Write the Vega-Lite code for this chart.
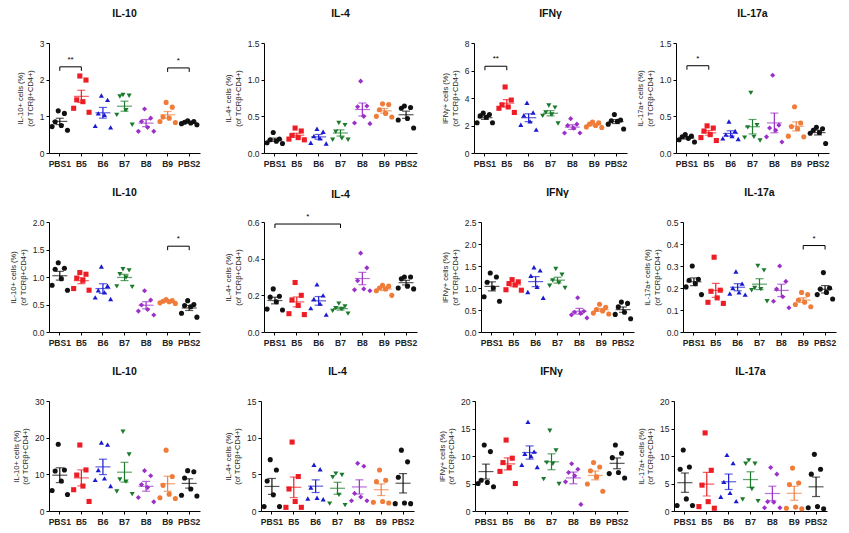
{
"$schema":"https://vega.github.io/schema/vega-lite/v6.json",
"padding":{"left":9,"top":8,"right":5,"bottom":5},
"background":"white",
"datasets":{
"br":[{"p":1,"a":0,"b":1,"y":2.35,"lab":"**"},{"p":1,"a":5,"b":6,"y":2.32,"lab":"*"},{"p":3,"a":0,"b":1,"y":6.31,"lab":"**"},{"p":4,"a":0,"b":1,"y":1.19,"lab":"*"},{"p":5,"a":5,"b":6,"y":1.56,"lab":"*"},{"p":6,"a":0,"b":3,"y":0.589,"lab":"*"},{"p":8,"a":5,"b":6,"y":0.393,"lab":"*"}],
"pts":[
{"p":1,"g":"PBS1","r":3,"v":1.15},{"p":1,"g":"PBS1","r":5,"v":1.08},{"p":1,"g":"PBS1","r":2,"v":0.85},{"p":1,"g":"PBS1","r":4,"v":0.75},{"p":1,"g":"PBS1","r":1,"v":0.72},{"p":1,"g":"PBS1","r":6,"v":0.62},
{"p":1,"g":"B5","r":3,"v":2.10},{"p":1,"g":"B5","r":5,"v":1.99},{"p":1,"g":"B5","r":2,"v":1.45},{"p":1,"g":"B5","r":4,"v":1.40},{"p":1,"g":"B5","r":1,"v":1.22},{"p":1,"g":"B5","r":6,"v":1.11},
{"p":1,"g":"B6","r":3,"v":1.57},{"p":1,"g":"B6","r":5,"v":1.45},{"p":1,"g":"B6","r":2,"v":1.08},{"p":1,"g":"B6","r":4,"v":1.04},{"p":1,"g":"B6","r":1,"v":0.74},{"p":1,"g":"B6","r":6,"v":0.70},
{"p":1,"g":"B7","r":3,"v":1.58},{"p":1,"g":"B7","r":5,"v":1.56},{"p":1,"g":"B7","r":2,"v":1.54},{"p":1,"g":"B7","r":4,"v":1.17},{"p":1,"g":"B7","r":1,"v":1.04},{"p":1,"g":"B7","r":6,"v":0.77},
{"p":1,"g":"B8","r":3,"v":1.20},{"p":1,"g":"B8","r":5,"v":0.95},{"p":1,"g":"B8","r":2,"v":0.86},{"p":1,"g":"B8","r":4,"v":0.70},{"p":1,"g":"B8","r":1,"v":0.59},{"p":1,"g":"B8","r":6,"v":0.59},
{"p":1,"g":"B9","r":3,"v":1.38},{"p":1,"g":"B9","r":5,"v":1.25},{"p":1,"g":"B9","r":2,"v":0.98},{"p":1,"g":"B9","r":4,"v":0.95},{"p":1,"g":"B9","r":1,"v":0.86},{"p":1,"g":"B9","r":6,"v":0.83},
{"p":1,"g":"PBS2","r":3,"v":0.88},{"p":1,"g":"PBS2","r":5,"v":0.86},{"p":1,"g":"PBS2","r":2,"v":0.84},{"p":1,"g":"PBS2","r":4,"v":0.82},{"p":1,"g":"PBS2","r":1,"v":0.80},{"p":1,"g":"PBS2","r":6,"v":0.77},
{"p":2,"g":"PBS1","r":3,"v":0.28},{"p":2,"g":"PBS1","r":5,"v":0.19},{"p":2,"g":"PBS1","r":2,"v":0.18},{"p":2,"g":"PBS1","r":4,"v":0.16},{"p":2,"g":"PBS1","r":1,"v":0.14},{"p":2,"g":"PBS1","r":6,"v":0.13},
{"p":2,"g":"B5","r":3,"v":0.34},{"p":2,"g":"B5","r":5,"v":0.30},{"p":2,"g":"B5","r":2,"v":0.24},{"p":2,"g":"B5","r":4,"v":0.21},{"p":2,"g":"B5","r":1,"v":0.19},{"p":2,"g":"B5","r":6,"v":0.18},
{"p":2,"g":"B6","r":3,"v":0.33},{"p":2,"g":"B6","r":5,"v":0.29},{"p":2,"g":"B6","r":2,"v":0.23},{"p":2,"g":"B6","r":4,"v":0.20},{"p":2,"g":"B6","r":1,"v":0.14},{"p":2,"g":"B6","r":6,"v":0.13},
{"p":2,"g":"B7","r":3,"v":0.41},{"p":2,"g":"B7","r":5,"v":0.38},{"p":2,"g":"B7","r":2,"v":0.29},{"p":2,"g":"B7","r":4,"v":0.20},{"p":2,"g":"B7","r":1,"v":0.18},{"p":2,"g":"B7","r":6,"v":0.18},
{"p":2,"g":"B8","r":3,"v":0.98},{"p":2,"g":"B8","r":5,"v":0.64},{"p":2,"g":"B8","r":2,"v":0.63},{"p":2,"g":"B8","r":4,"v":0.50},{"p":2,"g":"B8","r":1,"v":0.41},{"p":2,"g":"B8","r":6,"v":0.40},
{"p":2,"g":"B9","r":3,"v":0.67},{"p":2,"g":"B9","r":5,"v":0.66},{"p":2,"g":"B9","r":2,"v":0.59},{"p":2,"g":"B9","r":4,"v":0.54},{"p":2,"g":"B9","r":1,"v":0.50},{"p":2,"g":"B9","r":6,"v":0.49},
{"p":2,"g":"PBS2","r":3,"v":0.64},{"p":2,"g":"PBS2","r":5,"v":0.62},{"p":2,"g":"PBS2","r":2,"v":0.61},{"p":2,"g":"PBS2","r":4,"v":0.47},{"p":2,"g":"PBS2","r":1,"v":0.45},{"p":2,"g":"PBS2","r":6,"v":0.34},
{"p":3,"g":"PBS1","r":3,"v":2.9},{"p":3,"g":"PBS1","r":5,"v":2.8},{"p":3,"g":"PBS1","r":2,"v":2.7},{"p":3,"g":"PBS1","r":4,"v":2.6},{"p":3,"g":"PBS1","r":1,"v":2.2},{"p":3,"g":"PBS1","r":6,"v":2.2},
{"p":3,"g":"B5","r":3,"v":4.8},{"p":3,"g":"B5","r":5,"v":3.85},{"p":3,"g":"B5","r":2,"v":3.5},{"p":3,"g":"B5","r":4,"v":3.35},{"p":3,"g":"B5","r":1,"v":3.25},{"p":3,"g":"B5","r":6,"v":2.95},
{"p":3,"g":"B6","r":3,"v":3.65},{"p":3,"g":"B6","r":5,"v":2.95},{"p":3,"g":"B6","r":2,"v":2.75},{"p":3,"g":"B6","r":4,"v":2.3},{"p":3,"g":"B6","r":1,"v":2.05},{"p":3,"g":"B6","r":6,"v":1.7},
{"p":3,"g":"B7","r":3,"v":3.45},{"p":3,"g":"B7","r":5,"v":3.3},{"p":3,"g":"B7","r":2,"v":2.95},{"p":3,"g":"B7","r":4,"v":2.8},{"p":3,"g":"B7","r":1,"v":2.7},{"p":3,"g":"B7","r":6,"v":2.15},
{"p":3,"g":"B8","r":3,"v":2.5},{"p":3,"g":"B8","r":5,"v":2.1},{"p":3,"g":"B8","r":2,"v":2.0},{"p":3,"g":"B8","r":4,"v":1.8},{"p":3,"g":"B8","r":1,"v":1.45},{"p":3,"g":"B8","r":6,"v":1.45},
{"p":3,"g":"B9","r":3,"v":2.25},{"p":3,"g":"B9","r":5,"v":2.2},{"p":3,"g":"B9","r":2,"v":2.1},{"p":3,"g":"B9","r":4,"v":2.0},{"p":3,"g":"B9","r":1,"v":1.9},{"p":3,"g":"B9","r":6,"v":1.85},
{"p":3,"g":"PBS2","r":3,"v":2.8},{"p":3,"g":"PBS2","r":5,"v":2.4},{"p":3,"g":"PBS2","r":2,"v":2.35},{"p":3,"g":"PBS2","r":4,"v":2.3},{"p":3,"g":"PBS2","r":1,"v":2.1},{"p":3,"g":"PBS2","r":6,"v":1.75},
{"p":4,"g":"PBS1","r":3,"v":0.25},{"p":4,"g":"PBS1","r":5,"v":0.23},{"p":4,"g":"PBS1","r":2,"v":0.22},{"p":4,"g":"PBS1","r":4,"v":0.20},{"p":4,"g":"PBS1","r":1,"v":0.18},{"p":4,"g":"PBS1","r":6,"v":0.15},
{"p":4,"g":"B5","r":3,"v":0.37},{"p":4,"g":"B5","r":5,"v":0.34},{"p":4,"g":"B5","r":2,"v":0.30},{"p":4,"g":"B5","r":4,"v":0.25},{"p":4,"g":"B5","r":1,"v":0.21},{"p":4,"g":"B5","r":6,"v":0.17},
{"p":4,"g":"B6","r":3,"v":0.43},{"p":4,"g":"B6","r":5,"v":0.30},{"p":4,"g":"B6","r":2,"v":0.25},{"p":4,"g":"B6","r":4,"v":0.23},{"p":4,"g":"B6","r":1,"v":0.20},{"p":4,"g":"B6","r":6,"v":0.19},
{"p":4,"g":"B7","r":3,"v":0.82},{"p":4,"g":"B7","r":5,"v":0.38},{"p":4,"g":"B7","r":2,"v":0.35},{"p":4,"g":"B7","r":4,"v":0.22},{"p":4,"g":"B7","r":1,"v":0.21},{"p":4,"g":"B7","r":6,"v":0.17},
{"p":4,"g":"B8","r":3,"v":1.06},{"p":4,"g":"B8","r":5,"v":0.38},{"p":4,"g":"B8","r":2,"v":0.34},{"p":4,"g":"B8","r":4,"v":0.31},{"p":4,"g":"B8","r":1,"v":0.22},{"p":4,"g":"B8","r":6,"v":0.15},
{"p":4,"g":"B9","r":3,"v":0.63},{"p":4,"g":"B9","r":5,"v":0.41},{"p":4,"g":"B9","r":2,"v":0.36},{"p":4,"g":"B9","r":4,"v":0.33},{"p":4,"g":"B9","r":1,"v":0.23},{"p":4,"g":"B9","r":6,"v":0.22},
{"p":4,"g":"PBS2","r":3,"v":0.35},{"p":4,"g":"PBS2","r":5,"v":0.33},{"p":4,"g":"PBS2","r":2,"v":0.31},{"p":4,"g":"PBS2","r":4,"v":0.28},{"p":4,"g":"PBS2","r":1,"v":0.27},{"p":4,"g":"PBS2","r":6,"v":0.13},
{"p":5,"g":"PBS1","r":3,"v":1.26},{"p":5,"g":"PBS1","r":5,"v":1.16},{"p":5,"g":"PBS1","r":2,"v":1.14},{"p":5,"g":"PBS1","r":4,"v":0.97},{"p":5,"g":"PBS1","r":1,"v":0.85},{"p":5,"g":"PBS1","r":6,"v":0.76},
{"p":5,"g":"B5","r":3,"v":1.08},{"p":5,"g":"B5","r":5,"v":1.05},{"p":5,"g":"B5","r":2,"v":0.98},{"p":5,"g":"B5","r":4,"v":0.94},{"p":5,"g":"B5","r":1,"v":0.79},{"p":5,"g":"B5","r":6,"v":0.76},
{"p":5,"g":"B6","r":3,"v":1.19},{"p":5,"g":"B6","r":5,"v":0.84},{"p":5,"g":"B6","r":2,"v":0.76},{"p":5,"g":"B6","r":4,"v":0.72},{"p":5,"g":"B6","r":1,"v":0.63},{"p":5,"g":"B6","r":6,"v":0.60},
{"p":5,"g":"B7","r":3,"v":1.14},{"p":5,"g":"B7","r":5,"v":1.12},{"p":5,"g":"B7","r":2,"v":1.05},{"p":5,"g":"B7","r":4,"v":0.99},{"p":5,"g":"B7","r":1,"v":0.83},{"p":5,"g":"B7","r":6,"v":0.82},
{"p":5,"g":"B8","r":3,"v":0.75},{"p":5,"g":"B8","r":5,"v":0.58},{"p":5,"g":"B8","r":2,"v":0.49},{"p":5,"g":"B8","r":4,"v":0.41},{"p":5,"g":"B8","r":1,"v":0.38},{"p":5,"g":"B8","r":6,"v":0.31},
{"p":5,"g":"B9","r":3,"v":0.59},{"p":5,"g":"B9","r":5,"v":0.57},{"p":5,"g":"B9","r":2,"v":0.56},{"p":5,"g":"B9","r":4,"v":0.55},{"p":5,"g":"B9","r":1,"v":0.53},{"p":5,"g":"B9","r":6,"v":0.52},
{"p":5,"g":"PBS2","r":3,"v":0.57},{"p":5,"g":"PBS2","r":5,"v":0.50},{"p":5,"g":"PBS2","r":2,"v":0.48},{"p":5,"g":"PBS2","r":4,"v":0.46},{"p":5,"g":"PBS2","r":1,"v":0.34},{"p":5,"g":"PBS2","r":6,"v":0.27},
{"p":6,"g":"PBS1","r":3,"v":0.235},{"p":6,"g":"PBS1","r":5,"v":0.195},{"p":6,"g":"PBS1","r":2,"v":0.19},{"p":6,"g":"PBS1","r":4,"v":0.165},{"p":6,"g":"PBS1","r":1,"v":0.125},{"p":6,"g":"PBS1","r":6,"v":0.12},
{"p":6,"g":"B5","r":3,"v":0.27},{"p":6,"g":"B5","r":5,"v":0.20},{"p":6,"g":"B5","r":2,"v":0.175},{"p":6,"g":"B5","r":4,"v":0.145},{"p":6,"g":"B5","r":1,"v":0.10},{"p":6,"g":"B5","r":6,"v":0.095},
{"p":6,"g":"B6","r":3,"v":0.26},{"p":6,"g":"B6","r":5,"v":0.20},{"p":6,"g":"B6","r":2,"v":0.18},{"p":6,"g":"B6","r":4,"v":0.155},{"p":6,"g":"B6","r":1,"v":0.13},{"p":6,"g":"B6","r":6,"v":0.095},
{"p":6,"g":"B7","r":3,"v":0.155},{"p":6,"g":"B7","r":5,"v":0.14},{"p":6,"g":"B7","r":2,"v":0.13},{"p":6,"g":"B7","r":4,"v":0.125},{"p":6,"g":"B7","r":1,"v":0.115},{"p":6,"g":"B7","r":6,"v":0.10},
{"p":6,"g":"B8","r":3,"v":0.43},{"p":6,"g":"B8","r":5,"v":0.35},{"p":6,"g":"B8","r":2,"v":0.28},{"p":6,"g":"B8","r":4,"v":0.235},{"p":6,"g":"B8","r":1,"v":0.23},{"p":6,"g":"B8","r":6,"v":0.225},
{"p":6,"g":"B9","r":3,"v":0.255},{"p":6,"g":"B9","r":5,"v":0.25},{"p":6,"g":"B9","r":2,"v":0.24},{"p":6,"g":"B9","r":4,"v":0.235},{"p":6,"g":"B9","r":1,"v":0.225},{"p":6,"g":"B9","r":6,"v":0.20},
{"p":6,"g":"PBS2","r":3,"v":0.30},{"p":6,"g":"PBS2","r":5,"v":0.30},{"p":6,"g":"PBS2","r":2,"v":0.29},{"p":6,"g":"PBS2","r":4,"v":0.25},{"p":6,"g":"PBS2","r":1,"v":0.24},{"p":6,"g":"PBS2","r":6,"v":0.235},
{"p":7,"g":"PBS1","r":3,"v":1.34},{"p":7,"g":"PBS1","r":5,"v":1.25},{"p":7,"g":"PBS1","r":2,"v":1.13},{"p":7,"g":"PBS1","r":4,"v":1.0},{"p":7,"g":"PBS1","r":1,"v":0.80},{"p":7,"g":"PBS1","r":6,"v":0.70},
{"p":7,"g":"B5","r":3,"v":1.19},{"p":7,"g":"B5","r":5,"v":1.14},{"p":7,"g":"B5","r":2,"v":1.10},{"p":7,"g":"B5","r":4,"v":1.07},{"p":7,"g":"B5","r":1,"v":0.96},{"p":7,"g":"B5","r":6,"v":0.95},
{"p":7,"g":"B6","r":3,"v":1.47},{"p":7,"g":"B6","r":5,"v":1.40},{"p":7,"g":"B6","r":2,"v":1.28},{"p":7,"g":"B6","r":4,"v":1.03},{"p":7,"g":"B6","r":1,"v":0.91},{"p":7,"g":"B6","r":6,"v":0.78},
{"p":7,"g":"B7","r":3,"v":1.43},{"p":7,"g":"B7","r":5,"v":1.30},{"p":7,"g":"B7","r":2,"v":1.17},{"p":7,"g":"B7","r":4,"v":1.12},{"p":7,"g":"B7","r":1,"v":1.05},{"p":7,"g":"B7","r":6,"v":1.0},
{"p":7,"g":"B8","r":3,"v":0.78},{"p":7,"g":"B8","r":5,"v":0.47},{"p":7,"g":"B8","r":2,"v":0.45},{"p":7,"g":"B8","r":4,"v":0.42},{"p":7,"g":"B8","r":1,"v":0.39},{"p":7,"g":"B8","r":6,"v":0.32},
{"p":7,"g":"B9","r":3,"v":0.63},{"p":7,"g":"B9","r":5,"v":0.56},{"p":7,"g":"B9","r":2,"v":0.51},{"p":7,"g":"B9","r":4,"v":0.48},{"p":7,"g":"B9","r":1,"v":0.43},{"p":7,"g":"B9","r":6,"v":0.41},
{"p":7,"g":"PBS2","r":3,"v":0.68},{"p":7,"g":"PBS2","r":5,"v":0.65},{"p":7,"g":"PBS2","r":2,"v":0.57},{"p":7,"g":"PBS2","r":4,"v":0.45},{"p":7,"g":"PBS2","r":1,"v":0.40},{"p":7,"g":"PBS2","r":6,"v":0.30},
{"p":8,"g":"PBS1","r":3,"v":0.30},{"p":8,"g":"PBS1","r":5,"v":0.24},{"p":8,"g":"PBS1","r":2,"v":0.235},{"p":8,"g":"PBS1","r":4,"v":0.22},{"p":8,"g":"PBS1","r":1,"v":0.205},{"p":8,"g":"PBS1","r":6,"v":0.17},
{"p":8,"g":"B5","r":3,"v":0.34},{"p":8,"g":"B5","r":5,"v":0.19},{"p":8,"g":"B5","r":2,"v":0.185},{"p":8,"g":"B5","r":4,"v":0.155},{"p":8,"g":"B5","r":1,"v":0.135},{"p":8,"g":"B5","r":6,"v":0.13},
{"p":8,"g":"B6","r":3,"v":0.275},{"p":8,"g":"B6","r":5,"v":0.22},{"p":8,"g":"B6","r":2,"v":0.20},{"p":8,"g":"B6","r":4,"v":0.18},{"p":8,"g":"B6","r":1,"v":0.175},{"p":8,"g":"B6","r":6,"v":0.17},
{"p":8,"g":"B7","r":3,"v":0.30},{"p":8,"g":"B7","r":5,"v":0.28},{"p":8,"g":"B7","r":2,"v":0.20},{"p":8,"g":"B7","r":4,"v":0.195},{"p":8,"g":"B7","r":1,"v":0.19},{"p":8,"g":"B7","r":6,"v":0.14},
{"p":8,"g":"B8","r":3,"v":0.30},{"p":8,"g":"B8","r":5,"v":0.23},{"p":8,"g":"B8","r":2,"v":0.195},{"p":8,"g":"B8","r":4,"v":0.16},{"p":8,"g":"B8","r":1,"v":0.14},{"p":8,"g":"B8","r":6,"v":0.11},
{"p":8,"g":"B9","r":3,"v":0.18},{"p":8,"g":"B9","r":5,"v":0.17},{"p":8,"g":"B9","r":2,"v":0.145},{"p":8,"g":"B9","r":4,"v":0.135},{"p":8,"g":"B9","r":1,"v":0.125},{"p":8,"g":"B9","r":6,"v":0.115},
{"p":8,"g":"PBS2","r":3,"v":0.27},{"p":8,"g":"PBS2","r":5,"v":0.20},{"p":8,"g":"PBS2","r":2,"v":0.195},{"p":8,"g":"PBS2","r":4,"v":0.18},{"p":8,"g":"PBS2","r":1,"v":0.17},{"p":8,"g":"PBS2","r":6,"v":0.15},
{"p":9,"g":"PBS1","r":3,"v":18.2},{"p":9,"g":"PBS1","r":5,"v":11.2},{"p":9,"g":"PBS1","r":2,"v":10.9},{"p":9,"g":"PBS1","r":4,"v":8.2},{"p":9,"g":"PBS1","r":1,"v":5.6},{"p":9,"g":"PBS1","r":6,"v":4.5},
{"p":9,"g":"B5","r":3,"v":18.0},{"p":9,"g":"B5","r":5,"v":11.2},{"p":9,"g":"B5","r":2,"v":9.8},{"p":9,"g":"B5","r":4,"v":6.8},{"p":9,"g":"B5","r":1,"v":5.8},{"p":9,"g":"B5","r":6,"v":2.6},
{"p":9,"g":"B6","r":3,"v":18.7},{"p":9,"g":"B6","r":5,"v":18.1},{"p":9,"g":"B6","r":2,"v":11.2},{"p":9,"g":"B6","r":4,"v":8.9},{"p":9,"g":"B6","r":1,"v":8.5},{"p":9,"g":"B6","r":6,"v":6.8},
{"p":9,"g":"B7","r":3,"v":21.6},{"p":9,"g":"B7","r":5,"v":15.4},{"p":9,"g":"B7","r":2,"v":8.6},{"p":9,"g":"B7","r":4,"v":8.0},{"p":9,"g":"B7","r":1,"v":5.3},{"p":9,"g":"B7","r":6,"v":4.6},
{"p":9,"g":"B8","r":3,"v":11.0},{"p":9,"g":"B8","r":5,"v":9.6},{"p":9,"g":"B8","r":2,"v":7.2},{"p":9,"g":"B8","r":4,"v":6.4},{"p":9,"g":"B8","r":1,"v":3.7},{"p":9,"g":"B8","r":6,"v":2.5},
{"p":9,"g":"B9","r":3,"v":16.6},{"p":9,"g":"B9","r":5,"v":9.4},{"p":9,"g":"B9","r":2,"v":7.0},{"p":9,"g":"B9","r":4,"v":4.6},{"p":9,"g":"B9","r":1,"v":3.6},{"p":9,"g":"B9","r":6,"v":3.4},
{"p":9,"g":"PBS2","r":3,"v":11.0},{"p":9,"g":"PBS2","r":5,"v":10.7},{"p":9,"g":"PBS2","r":2,"v":9.0},{"p":9,"g":"PBS2","r":4,"v":6.0},{"p":9,"g":"PBS2","r":1,"v":4.3},{"p":9,"g":"PBS2","r":6,"v":4.1},
{"p":10,"g":"PBS1","r":3,"v":7.0},{"p":10,"g":"PBS1","r":5,"v":5.6},{"p":10,"g":"PBS1","r":2,"v":4.1},{"p":10,"g":"PBS1","r":4,"v":2.2},{"p":10,"g":"PBS1","r":1,"v":0.6},{"p":10,"g":"PBS1","r":6,"v":0.6},
{"p":10,"g":"B5","r":3,"v":9.4},{"p":10,"g":"B5","r":5,"v":4.7},{"p":10,"g":"B5","r":2,"v":3.0},{"p":10,"g":"B5","r":4,"v":1.3},{"p":10,"g":"B5","r":1,"v":0.5},{"p":10,"g":"B5","r":6,"v":0.5},
{"p":10,"g":"B6","r":3,"v":6.3},{"p":10,"g":"B6","r":5,"v":5.7},{"p":10,"g":"B6","r":2,"v":3.2},{"p":10,"g":"B6","r":4,"v":1.8},{"p":10,"g":"B6","r":1,"v":1.7},{"p":10,"g":"B6","r":6,"v":1.6},
{"p":10,"g":"B7","r":3,"v":5.1},{"p":10,"g":"B7","r":5,"v":4.9},{"p":10,"g":"B7","r":2,"v":4.6},{"p":10,"g":"B7","r":4,"v":2.2},{"p":10,"g":"B7","r":1,"v":1.0},{"p":10,"g":"B7","r":6,"v":0.8},
{"p":10,"g":"B8","r":3,"v":6.5},{"p":10,"g":"B8","r":5,"v":6.1},{"p":10,"g":"B8","r":2,"v":2.4},{"p":10,"g":"B8","r":4,"v":1.9},{"p":10,"g":"B8","r":1,"v":1.4},{"p":10,"g":"B8","r":6,"v":1.4},
{"p":10,"g":"B9","r":3,"v":5.6},{"p":10,"g":"B9","r":5,"v":4.2},{"p":10,"g":"B9","r":2,"v":4.0},{"p":10,"g":"B9","r":4,"v":1.3},{"p":10,"g":"B9","r":1,"v":1.2},{"p":10,"g":"B9","r":6,"v":1.1},
{"p":10,"g":"PBS2","r":3,"v":8.3},{"p":10,"g":"PBS2","r":5,"v":6.7},{"p":10,"g":"PBS2","r":2,"v":4.6},{"p":10,"g":"PBS2","r":4,"v":1.1},{"p":10,"g":"PBS2","r":1,"v":1.0},{"p":10,"g":"PBS2","r":6,"v":1.0},
{"p":11,"g":"PBS1","r":3,"v":12.0},{"p":11,"g":"PBS1","r":5,"v":10.8},{"p":11,"g":"PBS1","r":2,"v":5.6},{"p":11,"g":"PBS1","r":4,"v":5.2},{"p":11,"g":"PBS1","r":1,"v":5.0},{"p":11,"g":"PBS1","r":6,"v":4.4},
{"p":11,"g":"B5","r":3,"v":12.9},{"p":11,"g":"B5","r":5,"v":9.6},{"p":11,"g":"B5","r":2,"v":8.8},{"p":11,"g":"B5","r":4,"v":7.9},{"p":11,"g":"B5","r":1,"v":7.2},{"p":11,"g":"B5","r":6,"v":5.0},
{"p":11,"g":"B6","r":3,"v":16.2},{"p":11,"g":"B6","r":5,"v":10.8},{"p":11,"g":"B6","r":2,"v":10.4},{"p":11,"g":"B6","r":4,"v":10.0},{"p":11,"g":"B6","r":1,"v":8.4},{"p":11,"g":"B6","r":6,"v":8.0},
{"p":11,"g":"B7","r":3,"v":14.6},{"p":11,"g":"B7","r":5,"v":11.0},{"p":11,"g":"B7","r":2,"v":8.8},{"p":11,"g":"B7","r":4,"v":8.6},{"p":11,"g":"B7","r":1,"v":5.8},{"p":11,"g":"B7","r":6,"v":4.9},
{"p":11,"g":"B8","r":3,"v":8.6},{"p":11,"g":"B8","r":5,"v":7.6},{"p":11,"g":"B8","r":2,"v":7.0},{"p":11,"g":"B8","r":4,"v":6.4},{"p":11,"g":"B8","r":1,"v":5.3},{"p":11,"g":"B8","r":6,"v":1.2},
{"p":11,"g":"B9","r":3,"v":8.8},{"p":11,"g":"B9","r":5,"v":8.0},{"p":11,"g":"B9","r":2,"v":7.3},{"p":11,"g":"B9","r":4,"v":6.2},{"p":11,"g":"B9","r":1,"v":4.9},{"p":11,"g":"B9","r":6,"v":3.6},
{"p":11,"g":"PBS2","r":3,"v":12.0},{"p":11,"g":"PBS2","r":5,"v":10.5},{"p":11,"g":"PBS2","r":2,"v":9.7},{"p":11,"g":"PBS2","r":4,"v":7.0},{"p":11,"g":"PBS2","r":1,"v":6.8},{"p":11,"g":"PBS2","r":6,"v":6.0},
{"p":12,"g":"PBS1","r":3,"v":11.1},{"p":12,"g":"PBS1","r":5,"v":8.0},{"p":12,"g":"PBS1","r":2,"v":7.6},{"p":12,"g":"PBS1","r":4,"v":2.2},{"p":12,"g":"PBS1","r":1,"v":1.0},{"p":12,"g":"PBS1","r":6,"v":1.0},
{"p":12,"g":"B5","r":3,"v":14.2},{"p":12,"g":"B5","r":5,"v":7.4},{"p":12,"g":"B5","r":2,"v":4.7},{"p":12,"g":"B5","r":4,"v":1.7},{"p":12,"g":"B5","r":1,"v":0.8},{"p":12,"g":"B5","r":6,"v":0.5},
{"p":12,"g":"B6","r":3,"v":10.2},{"p":12,"g":"B6","r":5,"v":8.7},{"p":12,"g":"B6","r":2,"v":5.3},{"p":12,"g":"B6","r":4,"v":3.3},{"p":12,"g":"B6","r":1,"v":2.6},{"p":12,"g":"B6","r":6,"v":1.8},
{"p":12,"g":"B7","r":3,"v":9.2},{"p":12,"g":"B7","r":5,"v":8.6},{"p":12,"g":"B7","r":2,"v":8.6},{"p":12,"g":"B7","r":4,"v":4.0},{"p":12,"g":"B7","r":1,"v":2.1},{"p":12,"g":"B7","r":6,"v":1.8},
{"p":12,"g":"B8","r":3,"v":7.9},{"p":12,"g":"B8","r":5,"v":6.7},{"p":12,"g":"B8","r":2,"v":1.7},{"p":12,"g":"B8","r":4,"v":1.6},{"p":12,"g":"B8","r":1,"v":0.6},{"p":12,"g":"B8","r":6,"v":0.6},
{"p":12,"g":"B9","r":3,"v":7.8},{"p":12,"g":"B9","r":5,"v":5.1},{"p":12,"g":"B9","r":2,"v":4.8},{"p":12,"g":"B9","r":4,"v":0.7},{"p":12,"g":"B9","r":1,"v":0.5},{"p":12,"g":"B9","r":6,"v":0.4},
{"p":12,"g":"PBS2","r":3,"v":10.3},{"p":12,"g":"PBS2","r":5,"v":7.6},{"p":12,"g":"PBS2","r":2,"v":6.7},{"p":12,"g":"PBS2","r":4,"v":0.8},{"p":12,"g":"PBS2","r":1,"v":0.6},{"p":12,"g":"PBS2","r":6,"v":0.4}
]},
"vconcat":[
{"hconcat":[
 {"hconcat":[
  {"width":151,"height":110,"title":{"text":"IL-10"},"layer":[
   {"data":{"name":"pts"},"transform":[{"filter":"datum.p==1"}],
    "encoding":{"x":{"field":"g","type":"nominal","scale":{"domain":["PBS1","B5","B6","B7","B8","B9","PBS2"],"paddingInner":0,"paddingOuter":0},"axis":{"title":null}},
      "color":{"field":"g","type":"nominal","scale":{"domain":["PBS1","B5","B6","B7","B8","B9","PBS2"],"range":["#111111","#ee1c24","#1a1ad0","#1b7a2b","#9b30c8","#f07c3a","#111111"]},"legend":null}},
    "layer":[
     {"mark":{"type":"point","filled":true,"size":26,"opacity":1},"encoding":{"y":{"field":"v","type":"quantitative","scale":{"domain":[0,3],"nice":false},"axis":{"title":["IL-10+ cells (%)","(of TCRβ+CD4+)"],"values":[0,1,2,3],"format":"d"}},"xOffset":{"field":"r","type":"ordinal","scale":{"type":"point","padding":1.5}},"shape":{"field":"g","type":"nominal","scale":{"domain":["PBS1","B5","B6","B7","B8","B9","PBS2"],"range":["circle","square","triangle-up","triangle-down","diamond","circle","circle"]},"legend":null}}},
     {"transform":[{"aggregate":[{"op":"mean","field":"v","as":"m"},{"op":"stderr","field":"v","as":"se"}],"groupby":["g"]},{"calculate":"datum.m-datum.se","as":"lo"},{"calculate":"datum.m+datum.se","as":"hi"}],
      "layer":[
       {"mark":{"type":"tick","size":15,"thickness":1.2},"encoding":{"y":{"field":"m","type":"quantitative","scale":{"domain":[0,3],"nice":false},"axis":{"title":["IL-10+ cells (%)","(of TCRβ+CD4+)"],"values":[0,1,2,3],"format":"d"}}}},
       {"mark":{"type":"rule","strokeWidth":1.2},"encoding":{"y":{"field":"lo","type":"quantitative","scale":{"domain":[0,3],"nice":false},"axis":{"title":["IL-10+ cells (%)","(of TCRβ+CD4+)"],"values":[0,1,2,3],"format":"d"}},"y2":{"field":"hi"}}},
       {"mark":{"type":"tick","size":8,"thickness":1.2},"encoding":{"y":{"field":"lo","type":"quantitative","scale":{"domain":[0,3],"nice":false},"axis":{"title":["IL-10+ cells (%)","(of TCRβ+CD4+)"],"values":[0,1,2,3],"format":"d"}}}},
       {"mark":{"type":"tick","size":8,"thickness":1.2},"encoding":{"y":{"field":"hi","type":"quantitative","scale":{"domain":[0,3],"nice":false},"axis":{"title":["IL-10+ cells (%)","(of TCRβ+CD4+)"],"values":[0,1,2,3],"format":"d"}}}}]}]},
   {"data":{"name":"br"},"transform":[{"filter":"datum.p==1"},{"calculate":"(datum.a+datum.b)/2","as":"mid"}],
    "encoding":{"x":{"field":"a","type":"quantitative","scale":{"domain":[-0.5,6.5],"nice":false,"zero":false},"axis":null},"y":{"field":"y","type":"quantitative","scale":{"domain":[0,3],"nice":false},"axis":{"title":["IL-10+ cells (%)","(of TCRβ+CD4+)"],"values":[0,1,2,3],"format":"d"}}},
    "layer":[
     {"mark":{"type":"rule","color":"#000","strokeWidth":1},"encoding":{"x2":{"field":"b"}}},
     {"mark":{"type":"rule","color":"#000","strokeWidth":1,"y2Offset":4},"encoding":{"y2":{"field":"y"}}},
     {"mark":{"type":"rule","color":"#000","strokeWidth":1,"y2Offset":4},"encoding":{"x":{"field":"b","type":"quantitative"},"y2":{"field":"y"}}},
     {"mark":{"type":"text","dy":-3,"fontSize":8,"baseline":"bottom","color":"#000"},"encoding":{"x":{"field":"mid","type":"quantitative"},"text":{"field":"lab"}}}]}],
   "resolve":{"scale":{"x":"independent"}}},
  {"width":153,"height":110,"title":{"text":"IL-4"},"layer":[
   {"data":{"name":"pts"},"transform":[{"filter":"datum.p==2"}],
    "encoding":{"x":{"field":"g","type":"nominal","scale":{"domain":["PBS1","B5","B6","B7","B8","B9","PBS2"],"paddingInner":0,"paddingOuter":0},"axis":{"title":null}},
      "color":{"field":"g","type":"nominal","scale":{"domain":["PBS1","B5","B6","B7","B8","B9","PBS2"],"range":["#111111","#ee1c24","#1a1ad0","#1b7a2b","#9b30c8","#f07c3a","#111111"]},"legend":null}},
    "layer":[
     {"mark":{"type":"point","filled":true,"size":26,"opacity":1},"encoding":{"y":{"field":"v","type":"quantitative","scale":{"domain":[0,1.5],"nice":false},"axis":{"title":["IL-4+ cells (%)","(of TCRβ+CD4+)"],"values":[0,0.5,1,1.5],"format":".1f"}},"xOffset":{"field":"r","type":"ordinal","scale":{"type":"point","padding":1.5}},"shape":{"field":"g","type":"nominal","scale":{"domain":["PBS1","B5","B6","B7","B8","B9","PBS2"],"range":["circle","square","triangle-up","triangle-down","diamond","circle","circle"]},"legend":null}}},
     {"transform":[{"aggregate":[{"op":"mean","field":"v","as":"m"},{"op":"stderr","field":"v","as":"se"}],"groupby":["g"]},{"calculate":"datum.m-datum.se","as":"lo"},{"calculate":"datum.m+datum.se","as":"hi"}],
      "layer":[
       {"mark":{"type":"tick","size":15,"thickness":1.2},"encoding":{"y":{"field":"m","type":"quantitative","scale":{"domain":[0,1.5],"nice":false},"axis":{"title":["IL-4+ cells (%)","(of TCRβ+CD4+)"],"values":[0,0.5,1,1.5],"format":".1f"}}}},
       {"mark":{"type":"rule","strokeWidth":1.2},"encoding":{"y":{"field":"lo","type":"quantitative","scale":{"domain":[0,1.5],"nice":false},"axis":{"title":["IL-4+ cells (%)","(of TCRβ+CD4+)"],"values":[0,0.5,1,1.5],"format":".1f"}},"y2":{"field":"hi"}}},
       {"mark":{"type":"tick","size":8,"thickness":1.2},"encoding":{"y":{"field":"lo","type":"quantitative","scale":{"domain":[0,1.5],"nice":false},"axis":{"title":["IL-4+ cells (%)","(of TCRβ+CD4+)"],"values":[0,0.5,1,1.5],"format":".1f"}}}},
       {"mark":{"type":"tick","size":8,"thickness":1.2},"encoding":{"y":{"field":"hi","type":"quantitative","scale":{"domain":[0,1.5],"nice":false},"axis":{"title":["IL-4+ cells (%)","(of TCRβ+CD4+)"],"values":[0,0.5,1,1.5],"format":".1f"}}}}]}]}]},
  {"width":153,"height":110,"title":{"text":"IFNγ"},"layer":[
   {"data":{"name":"pts"},"transform":[{"filter":"datum.p==3"}],
    "encoding":{"x":{"field":"g","type":"nominal","scale":{"domain":["PBS1","B5","B6","B7","B8","B9","PBS2"],"paddingInner":0,"paddingOuter":0},"axis":{"title":null}},
      "color":{"field":"g","type":"nominal","scale":{"domain":["PBS1","B5","B6","B7","B8","B9","PBS2"],"range":["#111111","#ee1c24","#1a1ad0","#1b7a2b","#9b30c8","#f07c3a","#111111"]},"legend":null}},
    "layer":[
     {"mark":{"type":"point","filled":true,"size":26,"opacity":1},"encoding":{"y":{"field":"v","type":"quantitative","scale":{"domain":[0,8],"nice":false},"axis":{"title":["IFNγ+ cells (%)","(of TCRβ+CD4+)"],"values":[0,2,4,6,8],"format":"d"}},"xOffset":{"field":"r","type":"ordinal","scale":{"type":"point","padding":1.5}},"shape":{"field":"g","type":"nominal","scale":{"domain":["PBS1","B5","B6","B7","B8","B9","PBS2"],"range":["circle","square","triangle-up","triangle-down","diamond","circle","circle"]},"legend":null}}},
     {"transform":[{"aggregate":[{"op":"mean","field":"v","as":"m"},{"op":"stderr","field":"v","as":"se"}],"groupby":["g"]},{"calculate":"datum.m-datum.se","as":"lo"},{"calculate":"datum.m+datum.se","as":"hi"}],
      "layer":[
       {"mark":{"type":"tick","size":15,"thickness":1.2},"encoding":{"y":{"field":"m","type":"quantitative","scale":{"domain":[0,8],"nice":false},"axis":{"title":["IFNγ+ cells (%)","(of TCRβ+CD4+)"],"values":[0,2,4,6,8],"format":"d"}}}},
       {"mark":{"type":"rule","strokeWidth":1.2},"encoding":{"y":{"field":"lo","type":"quantitative","scale":{"domain":[0,8],"nice":false},"axis":{"title":["IFNγ+ cells (%)","(of TCRβ+CD4+)"],"values":[0,2,4,6,8],"format":"d"}},"y2":{"field":"hi"}}},
       {"mark":{"type":"tick","size":8,"thickness":1.2},"encoding":{"y":{"field":"lo","type":"quantitative","scale":{"domain":[0,8],"nice":false},"axis":{"title":["IFNγ+ cells (%)","(of TCRβ+CD4+)"],"values":[0,2,4,6,8],"format":"d"}}}},
       {"mark":{"type":"tick","size":8,"thickness":1.2},"encoding":{"y":{"field":"hi","type":"quantitative","scale":{"domain":[0,8],"nice":false},"axis":{"title":["IFNγ+ cells (%)","(of TCRβ+CD4+)"],"values":[0,2,4,6,8],"format":"d"}}}}]}]},
   {"data":{"name":"br"},"transform":[{"filter":"datum.p==3"},{"calculate":"(datum.a+datum.b)/2","as":"mid"}],
    "encoding":{"x":{"field":"a","type":"quantitative","scale":{"domain":[-0.5,6.5],"nice":false,"zero":false},"axis":null},"y":{"field":"y","type":"quantitative","scale":{"domain":[0,8],"nice":false},"axis":{"title":["IFNγ+ cells (%)","(of TCRβ+CD4+)"],"values":[0,2,4,6,8],"format":"d"}}},
    "layer":[
     {"mark":{"type":"rule","color":"#000","strokeWidth":1},"encoding":{"x2":{"field":"b"}}},
     {"mark":{"type":"rule","color":"#000","strokeWidth":1,"y2Offset":4},"encoding":{"y2":{"field":"y"}}},
     {"mark":{"type":"rule","color":"#000","strokeWidth":1,"y2Offset":4},"encoding":{"x":{"field":"b","type":"quantitative"},"y2":{"field":"y"}}},
     {"mark":{"type":"text","dy":-3,"fontSize":8,"baseline":"bottom","color":"#000"},"encoding":{"x":{"field":"mid","type":"quantitative"},"text":{"field":"lab"}}}]}],
   "resolve":{"scale":{"x":"independent"}}}
 ],"spacing":24},
 {"width":153,"height":110,"title":{"text":"IL-17a"},"layer":[
   {"data":{"name":"pts"},"transform":[{"filter":"datum.p==4"}],
    "encoding":{"x":{"field":"g","type":"nominal","scale":{"domain":["PBS1","B5","B6","B7","B8","B9","PBS2"],"paddingInner":0,"paddingOuter":0},"axis":{"title":null}},
      "color":{"field":"g","type":"nominal","scale":{"domain":["PBS1","B5","B6","B7","B8","B9","PBS2"],"range":["#111111","#ee1c24","#1a1ad0","#1b7a2b","#9b30c8","#f07c3a","#111111"]},"legend":null}},
    "layer":[
     {"mark":{"type":"point","filled":true,"size":26,"opacity":1},"encoding":{"y":{"field":"v","type":"quantitative","scale":{"domain":[0,1.5],"nice":false},"axis":{"title":["IL-17a+ cells (%)","(of TCRβ+CD4+)"],"values":[0,0.5,1,1.5],"format":".1f"}},"xOffset":{"field":"r","type":"ordinal","scale":{"type":"point","padding":1.5}},"shape":{"field":"g","type":"nominal","scale":{"domain":["PBS1","B5","B6","B7","B8","B9","PBS2"],"range":["circle","square","triangle-up","triangle-down","diamond","circle","circle"]},"legend":null}}},
     {"transform":[{"aggregate":[{"op":"mean","field":"v","as":"m"},{"op":"stderr","field":"v","as":"se"}],"groupby":["g"]},{"calculate":"datum.m-datum.se","as":"lo"},{"calculate":"datum.m+datum.se","as":"hi"}],
      "layer":[
       {"mark":{"type":"tick","size":15,"thickness":1.2},"encoding":{"y":{"field":"m","type":"quantitative","scale":{"domain":[0,1.5],"nice":false},"axis":{"title":["IL-17a+ cells (%)","(of TCRβ+CD4+)"],"values":[0,0.5,1,1.5],"format":".1f"}}}},
       {"mark":{"type":"rule","strokeWidth":1.2},"encoding":{"y":{"field":"lo","type":"quantitative","scale":{"domain":[0,1.5],"nice":false},"axis":{"title":["IL-17a+ cells (%)","(of TCRβ+CD4+)"],"values":[0,0.5,1,1.5],"format":".1f"}},"y2":{"field":"hi"}}},
       {"mark":{"type":"tick","size":8,"thickness":1.2},"encoding":{"y":{"field":"lo","type":"quantitative","scale":{"domain":[0,1.5],"nice":false},"axis":{"title":["IL-17a+ cells (%)","(of TCRβ+CD4+)"],"values":[0,0.5,1,1.5],"format":".1f"}}}},
       {"mark":{"type":"tick","size":8,"thickness":1.2},"encoding":{"y":{"field":"hi","type":"quantitative","scale":{"domain":[0,1.5],"nice":false},"axis":{"title":["IL-17a+ cells (%)","(of TCRβ+CD4+)"],"values":[0,0.5,1,1.5],"format":".1f"}}}}]}]},
   {"data":{"name":"br"},"transform":[{"filter":"datum.p==4"},{"calculate":"(datum.a+datum.b)/2","as":"mid"}],
    "encoding":{"x":{"field":"a","type":"quantitative","scale":{"domain":[-0.5,6.5],"nice":false,"zero":false},"axis":null},"y":{"field":"y","type":"quantitative","scale":{"domain":[0,1.5],"nice":false},"axis":{"title":["IL-17a+ cells (%)","(of TCRβ+CD4+)"],"values":[0,0.5,1,1.5],"format":".1f"}}},
    "layer":[
     {"mark":{"type":"rule","color":"#000","strokeWidth":1},"encoding":{"x2":{"field":"b"}}},
     {"mark":{"type":"rule","color":"#000","strokeWidth":1,"y2Offset":4},"encoding":{"y2":{"field":"y"}}},
     {"mark":{"type":"rule","color":"#000","strokeWidth":1,"y2Offset":4},"encoding":{"x":{"field":"b","type":"quantitative"},"y2":{"field":"y"}}},
     {"mark":{"type":"text","dy":-3,"fontSize":8,"baseline":"bottom","color":"#000"},"encoding":{"x":{"field":"mid","type":"quantitative"},"text":{"field":"lab"}}}]}],
   "resolve":{"scale":{"x":"independent"}}}
],"spacing":9},
{"hconcat":[
 {"hconcat":[
  {"width":151,"height":110,"title":{"text":"IL-10"},"layer":[
   {"data":{"name":"pts"},"transform":[{"filter":"datum.p==5"}],
    "encoding":{"x":{"field":"g","type":"nominal","scale":{"domain":["PBS1","B5","B6","B7","B8","B9","PBS2"],"paddingInner":0,"paddingOuter":0},"axis":{"title":null}},
      "color":{"field":"g","type":"nominal","scale":{"domain":["PBS1","B5","B6","B7","B8","B9","PBS2"],"range":["#111111","#ee1c24","#1a1ad0","#1b7a2b","#9b30c8","#f07c3a","#111111"]},"legend":null}},
    "layer":[
     {"mark":{"type":"point","filled":true,"size":26,"opacity":1},"encoding":{"y":{"field":"v","type":"quantitative","scale":{"domain":[0,2],"nice":false},"axis":{"title":["IL-10+ cells (%)","(of TCRβ+CD4+)"],"values":[0,0.5,1,1.5,2],"format":".1f"}},"xOffset":{"field":"r","type":"ordinal","scale":{"type":"point","padding":1.5}},"shape":{"field":"g","type":"nominal","scale":{"domain":["PBS1","B5","B6","B7","B8","B9","PBS2"],"range":["circle","square","triangle-up","triangle-down","diamond","circle","circle"]},"legend":null}}},
     {"transform":[{"aggregate":[{"op":"mean","field":"v","as":"m"},{"op":"stderr","field":"v","as":"se"}],"groupby":["g"]},{"calculate":"datum.m-datum.se","as":"lo"},{"calculate":"datum.m+datum.se","as":"hi"}],
      "layer":[
       {"mark":{"type":"tick","size":15,"thickness":1.2},"encoding":{"y":{"field":"m","type":"quantitative","scale":{"domain":[0,2],"nice":false},"axis":{"title":["IL-10+ cells (%)","(of TCRβ+CD4+)"],"values":[0,0.5,1,1.5,2],"format":".1f"}}}},
       {"mark":{"type":"rule","strokeWidth":1.2},"encoding":{"y":{"field":"lo","type":"quantitative","scale":{"domain":[0,2],"nice":false},"axis":{"title":["IL-10+ cells (%)","(of TCRβ+CD4+)"],"values":[0,0.5,1,1.5,2],"format":".1f"}},"y2":{"field":"hi"}}},
       {"mark":{"type":"tick","size":8,"thickness":1.2},"encoding":{"y":{"field":"lo","type":"quantitative","scale":{"domain":[0,2],"nice":false},"axis":{"title":["IL-10+ cells (%)","(of TCRβ+CD4+)"],"values":[0,0.5,1,1.5,2],"format":".1f"}}}},
       {"mark":{"type":"tick","size":8,"thickness":1.2},"encoding":{"y":{"field":"hi","type":"quantitative","scale":{"domain":[0,2],"nice":false},"axis":{"title":["IL-10+ cells (%)","(of TCRβ+CD4+)"],"values":[0,0.5,1,1.5,2],"format":".1f"}}}}]}]},
   {"data":{"name":"br"},"transform":[{"filter":"datum.p==5"},{"calculate":"(datum.a+datum.b)/2","as":"mid"}],
    "encoding":{"x":{"field":"a","type":"quantitative","scale":{"domain":[-0.5,6.5],"nice":false,"zero":false},"axis":null},"y":{"field":"y","type":"quantitative","scale":{"domain":[0,2],"nice":false},"axis":{"title":["IL-10+ cells (%)","(of TCRβ+CD4+)"],"values":[0,0.5,1,1.5,2],"format":".1f"}}},
    "layer":[
     {"mark":{"type":"rule","color":"#000","strokeWidth":1},"encoding":{"x2":{"field":"b"}}},
     {"mark":{"type":"rule","color":"#000","strokeWidth":1,"y2Offset":4},"encoding":{"y2":{"field":"y"}}},
     {"mark":{"type":"rule","color":"#000","strokeWidth":1,"y2Offset":4},"encoding":{"x":{"field":"b","type":"quantitative"},"y2":{"field":"y"}}},
     {"mark":{"type":"text","dy":-3,"fontSize":8,"baseline":"bottom","color":"#000"},"encoding":{"x":{"field":"mid","type":"quantitative"},"text":{"field":"lab"}}}]}],
   "resolve":{"scale":{"x":"independent"}}},
  {"width":153,"height":110,"title":{"text":"IL-4","offset":13},"layer":[
   {"data":{"name":"pts"},"transform":[{"filter":"datum.p==6"}],
    "encoding":{"x":{"field":"g","type":"nominal","scale":{"domain":["PBS1","B5","B6","B7","B8","B9","PBS2"],"paddingInner":0,"paddingOuter":0},"axis":{"title":null}},
      "color":{"field":"g","type":"nominal","scale":{"domain":["PBS1","B5","B6","B7","B8","B9","PBS2"],"range":["#111111","#ee1c24","#1a1ad0","#1b7a2b","#9b30c8","#f07c3a","#111111"]},"legend":null}},
    "layer":[
     {"mark":{"type":"point","filled":true,"size":26,"opacity":1},"encoding":{"y":{"field":"v","type":"quantitative","scale":{"domain":[0,0.6],"nice":false},"axis":{"title":["IL-4+ cells (%)","(of TCRβ+CD4+)"],"values":[0,0.2,0.4,0.6],"format":".1f"}},"xOffset":{"field":"r","type":"ordinal","scale":{"type":"point","padding":1.5}},"shape":{"field":"g","type":"nominal","scale":{"domain":["PBS1","B5","B6","B7","B8","B9","PBS2"],"range":["circle","square","triangle-up","triangle-down","diamond","circle","circle"]},"legend":null}}},
     {"transform":[{"aggregate":[{"op":"mean","field":"v","as":"m"},{"op":"stderr","field":"v","as":"se"}],"groupby":["g"]},{"calculate":"datum.m-datum.se","as":"lo"},{"calculate":"datum.m+datum.se","as":"hi"}],
      "layer":[
       {"mark":{"type":"tick","size":15,"thickness":1.2},"encoding":{"y":{"field":"m","type":"quantitative","scale":{"domain":[0,0.6],"nice":false},"axis":{"title":["IL-4+ cells (%)","(of TCRβ+CD4+)"],"values":[0,0.2,0.4,0.6],"format":".1f"}}}},
       {"mark":{"type":"rule","strokeWidth":1.2},"encoding":{"y":{"field":"lo","type":"quantitative","scale":{"domain":[0,0.6],"nice":false},"axis":{"title":["IL-4+ cells (%)","(of TCRβ+CD4+)"],"values":[0,0.2,0.4,0.6],"format":".1f"}},"y2":{"field":"hi"}}},
       {"mark":{"type":"tick","size":8,"thickness":1.2},"encoding":{"y":{"field":"lo","type":"quantitative","scale":{"domain":[0,0.6],"nice":false},"axis":{"title":["IL-4+ cells (%)","(of TCRβ+CD4+)"],"values":[0,0.2,0.4,0.6],"format":".1f"}}}},
       {"mark":{"type":"tick","size":8,"thickness":1.2},"encoding":{"y":{"field":"hi","type":"quantitative","scale":{"domain":[0,0.6],"nice":false},"axis":{"title":["IL-4+ cells (%)","(of TCRβ+CD4+)"],"values":[0,0.2,0.4,0.6],"format":".1f"}}}}]}]},
   {"data":{"name":"br"},"transform":[{"filter":"datum.p==6"},{"calculate":"(datum.a+datum.b)/2","as":"mid"}],
    "encoding":{"x":{"field":"a","type":"quantitative","scale":{"domain":[-0.5,6.5],"nice":false,"zero":false},"axis":null},"y":{"field":"y","type":"quantitative","scale":{"domain":[0,0.6],"nice":false},"axis":{"title":["IL-4+ cells (%)","(of TCRβ+CD4+)"],"values":[0,0.2,0.4,0.6],"format":".1f"}}},
    "layer":[
     {"mark":{"type":"rule","color":"#000","strokeWidth":1},"encoding":{"x2":{"field":"b"}}},
     {"mark":{"type":"rule","color":"#000","strokeWidth":1,"y2Offset":4},"encoding":{"y2":{"field":"y"}}},
     {"mark":{"type":"rule","color":"#000","strokeWidth":1,"y2Offset":4},"encoding":{"x":{"field":"b","type":"quantitative"},"y2":{"field":"y"}}},
     {"mark":{"type":"text","dy":-3,"fontSize":8,"baseline":"bottom","color":"#000"},"encoding":{"x":{"field":"mid","type":"quantitative"},"text":{"field":"lab"}}}]}],
   "resolve":{"scale":{"x":"independent"}}},
  {"width":153,"height":110,"title":{"text":"IFNγ"},"layer":[
   {"data":{"name":"pts"},"transform":[{"filter":"datum.p==7"}],
    "encoding":{"x":{"field":"g","type":"nominal","scale":{"domain":["PBS1","B5","B6","B7","B8","B9","PBS2"],"paddingInner":0,"paddingOuter":0},"axis":{"title":null}},
      "color":{"field":"g","type":"nominal","scale":{"domain":["PBS1","B5","B6","B7","B8","B9","PBS2"],"range":["#111111","#ee1c24","#1a1ad0","#1b7a2b","#9b30c8","#f07c3a","#111111"]},"legend":null}},
    "layer":[
     {"mark":{"type":"point","filled":true,"size":26,"opacity":1},"encoding":{"y":{"field":"v","type":"quantitative","scale":{"domain":[0,2.5],"nice":false},"axis":{"title":["IFNγ+ cells (%)","(of TCRβ+CD4+)"],"values":[0,0.5,1,1.5,2,2.5],"format":".1f"}},"xOffset":{"field":"r","type":"ordinal","scale":{"type":"point","padding":1.5}},"shape":{"field":"g","type":"nominal","scale":{"domain":["PBS1","B5","B6","B7","B8","B9","PBS2"],"range":["circle","square","triangle-up","triangle-down","diamond","circle","circle"]},"legend":null}}},
     {"transform":[{"aggregate":[{"op":"mean","field":"v","as":"m"},{"op":"stderr","field":"v","as":"se"}],"groupby":["g"]},{"calculate":"datum.m-datum.se","as":"lo"},{"calculate":"datum.m+datum.se","as":"hi"}],
      "layer":[
       {"mark":{"type":"tick","size":15,"thickness":1.2},"encoding":{"y":{"field":"m","type":"quantitative","scale":{"domain":[0,2.5],"nice":false},"axis":{"title":["IFNγ+ cells (%)","(of TCRβ+CD4+)"],"values":[0,0.5,1,1.5,2,2.5],"format":".1f"}}}},
       {"mark":{"type":"rule","strokeWidth":1.2},"encoding":{"y":{"field":"lo","type":"quantitative","scale":{"domain":[0,2.5],"nice":false},"axis":{"title":["IFNγ+ cells (%)","(of TCRβ+CD4+)"],"values":[0,0.5,1,1.5,2,2.5],"format":".1f"}},"y2":{"field":"hi"}}},
       {"mark":{"type":"tick","size":8,"thickness":1.2},"encoding":{"y":{"field":"lo","type":"quantitative","scale":{"domain":[0,2.5],"nice":false},"axis":{"title":["IFNγ+ cells (%)","(of TCRβ+CD4+)"],"values":[0,0.5,1,1.5,2,2.5],"format":".1f"}}}},
       {"mark":{"type":"tick","size":8,"thickness":1.2},"encoding":{"y":{"field":"hi","type":"quantitative","scale":{"domain":[0,2.5],"nice":false},"axis":{"title":["IFNγ+ cells (%)","(of TCRβ+CD4+)"],"values":[0,0.5,1,1.5,2,2.5],"format":".1f"}}}}]}]}]}
 ],"spacing":24},
 {"width":153,"height":110,"title":{"text":"IL-17a"},"layer":[
   {"data":{"name":"pts"},"transform":[{"filter":"datum.p==8"}],
    "encoding":{"x":{"field":"g","type":"nominal","scale":{"domain":["PBS1","B5","B6","B7","B8","B9","PBS2"],"paddingInner":0,"paddingOuter":0},"axis":{"title":null}},
      "color":{"field":"g","type":"nominal","scale":{"domain":["PBS1","B5","B6","B7","B8","B9","PBS2"],"range":["#111111","#ee1c24","#1a1ad0","#1b7a2b","#9b30c8","#f07c3a","#111111"]},"legend":null}},
    "layer":[
     {"mark":{"type":"point","filled":true,"size":26,"opacity":1},"encoding":{"y":{"field":"v","type":"quantitative","scale":{"domain":[0,0.5],"nice":false},"axis":{"title":["IL-17a+ cells (%)","(of TCRβ+CD4+)"],"values":[0,0.1,0.2,0.3,0.4,0.5],"format":".1f"}},"xOffset":{"field":"r","type":"ordinal","scale":{"type":"point","padding":1.5}},"shape":{"field":"g","type":"nominal","scale":{"domain":["PBS1","B5","B6","B7","B8","B9","PBS2"],"range":["circle","square","triangle-up","triangle-down","diamond","circle","circle"]},"legend":null}}},
     {"transform":[{"aggregate":[{"op":"mean","field":"v","as":"m"},{"op":"stderr","field":"v","as":"se"}],"groupby":["g"]},{"calculate":"datum.m-datum.se","as":"lo"},{"calculate":"datum.m+datum.se","as":"hi"}],
      "layer":[
       {"mark":{"type":"tick","size":15,"thickness":1.2},"encoding":{"y":{"field":"m","type":"quantitative","scale":{"domain":[0,0.5],"nice":false},"axis":{"title":["IL-17a+ cells (%)","(of TCRβ+CD4+)"],"values":[0,0.1,0.2,0.3,0.4,0.5],"format":".1f"}}}},
       {"mark":{"type":"rule","strokeWidth":1.2},"encoding":{"y":{"field":"lo","type":"quantitative","scale":{"domain":[0,0.5],"nice":false},"axis":{"title":["IL-17a+ cells (%)","(of TCRβ+CD4+)"],"values":[0,0.1,0.2,0.3,0.4,0.5],"format":".1f"}},"y2":{"field":"hi"}}},
       {"mark":{"type":"tick","size":8,"thickness":1.2},"encoding":{"y":{"field":"lo","type":"quantitative","scale":{"domain":[0,0.5],"nice":false},"axis":{"title":["IL-17a+ cells (%)","(of TCRβ+CD4+)"],"values":[0,0.1,0.2,0.3,0.4,0.5],"format":".1f"}}}},
       {"mark":{"type":"tick","size":8,"thickness":1.2},"encoding":{"y":{"field":"hi","type":"quantitative","scale":{"domain":[0,0.5],"nice":false},"axis":{"title":["IL-17a+ cells (%)","(of TCRβ+CD4+)"],"values":[0,0.1,0.2,0.3,0.4,0.5],"format":".1f"}}}}]}]},
   {"data":{"name":"br"},"transform":[{"filter":"datum.p==8"},{"calculate":"(datum.a+datum.b)/2","as":"mid"}],
    "encoding":{"x":{"field":"a","type":"quantitative","scale":{"domain":[-0.5,6.5],"nice":false,"zero":false},"axis":null},"y":{"field":"y","type":"quantitative","scale":{"domain":[0,0.5],"nice":false},"axis":{"title":["IL-17a+ cells (%)","(of TCRβ+CD4+)"],"values":[0,0.1,0.2,0.3,0.4,0.5],"format":".1f"}}},
    "layer":[
     {"mark":{"type":"rule","color":"#000","strokeWidth":1},"encoding":{"x2":{"field":"b"}}},
     {"mark":{"type":"rule","color":"#000","strokeWidth":1,"y2Offset":4},"encoding":{"y2":{"field":"y"}}},
     {"mark":{"type":"rule","color":"#000","strokeWidth":1,"y2Offset":4},"encoding":{"x":{"field":"b","type":"quantitative"},"y2":{"field":"y"}}},
     {"mark":{"type":"text","dy":-3,"fontSize":8,"baseline":"bottom","color":"#000"},"encoding":{"x":{"field":"mid","type":"quantitative"},"text":{"field":"lab"}}}]}],
   "resolve":{"scale":{"x":"independent"}}}
],"spacing":9},
{"hconcat":[
 {"hconcat":[
  {"width":151,"height":110,"title":{"text":"IL-10"},"layer":[
   {"data":{"name":"pts"},"transform":[{"filter":"datum.p==9"}],
    "encoding":{"x":{"field":"g","type":"nominal","scale":{"domain":["PBS1","B5","B6","B7","B8","B9","PBS2"],"paddingInner":0,"paddingOuter":0},"axis":{"title":null}},
      "color":{"field":"g","type":"nominal","scale":{"domain":["PBS1","B5","B6","B7","B8","B9","PBS2"],"range":["#111111","#ee1c24","#1a1ad0","#1b7a2b","#9b30c8","#f07c3a","#111111"]},"legend":null}},
    "layer":[
     {"mark":{"type":"point","filled":true,"size":26,"opacity":1},"encoding":{"y":{"field":"v","type":"quantitative","scale":{"domain":[0,30],"nice":false},"axis":{"title":["IL-10+ cells (%)","(of TCRβ+CD4+)"],"values":[0,10,20,30],"format":"d"}},"xOffset":{"field":"r","type":"ordinal","scale":{"type":"point","padding":1.5}},"shape":{"field":"g","type":"nominal","scale":{"domain":["PBS1","B5","B6","B7","B8","B9","PBS2"],"range":["circle","square","triangle-up","triangle-down","diamond","circle","circle"]},"legend":null}}},
     {"transform":[{"aggregate":[{"op":"mean","field":"v","as":"m"},{"op":"stderr","field":"v","as":"se"}],"groupby":["g"]},{"calculate":"datum.m-datum.se","as":"lo"},{"calculate":"datum.m+datum.se","as":"hi"}],
      "layer":[
       {"mark":{"type":"tick","size":15,"thickness":1.2},"encoding":{"y":{"field":"m","type":"quantitative","scale":{"domain":[0,30],"nice":false},"axis":{"title":["IL-10+ cells (%)","(of TCRβ+CD4+)"],"values":[0,10,20,30],"format":"d"}}}},
       {"mark":{"type":"rule","strokeWidth":1.2},"encoding":{"y":{"field":"lo","type":"quantitative","scale":{"domain":[0,30],"nice":false},"axis":{"title":["IL-10+ cells (%)","(of TCRβ+CD4+)"],"values":[0,10,20,30],"format":"d"}},"y2":{"field":"hi"}}},
       {"mark":{"type":"tick","size":8,"thickness":1.2},"encoding":{"y":{"field":"lo","type":"quantitative","scale":{"domain":[0,30],"nice":false},"axis":{"title":["IL-10+ cells (%)","(of TCRβ+CD4+)"],"values":[0,10,20,30],"format":"d"}}}},
       {"mark":{"type":"tick","size":8,"thickness":1.2},"encoding":{"y":{"field":"hi","type":"quantitative","scale":{"domain":[0,30],"nice":false},"axis":{"title":["IL-10+ cells (%)","(of TCRβ+CD4+)"],"values":[0,10,20,30],"format":"d"}}}}]}]}]},
  {"width":153,"height":110,"title":{"text":"IL-4"},"layer":[
   {"data":{"name":"pts"},"transform":[{"filter":"datum.p==10"}],
    "encoding":{"x":{"field":"g","type":"nominal","scale":{"domain":["PBS1","B5","B6","B7","B8","B9","PBS2"],"paddingInner":0,"paddingOuter":0},"axis":{"title":null}},
      "color":{"field":"g","type":"nominal","scale":{"domain":["PBS1","B5","B6","B7","B8","B9","PBS2"],"range":["#111111","#ee1c24","#1a1ad0","#1b7a2b","#9b30c8","#f07c3a","#111111"]},"legend":null}},
    "layer":[
     {"mark":{"type":"point","filled":true,"size":26,"opacity":1},"encoding":{"y":{"field":"v","type":"quantitative","scale":{"domain":[0,15],"nice":false},"axis":{"title":["IL-4+ cells (%)","(of TCRβ+CD4+)"],"values":[0,5,10,15],"format":"d"}},"xOffset":{"field":"r","type":"ordinal","scale":{"type":"point","padding":1.5}},"shape":{"field":"g","type":"nominal","scale":{"domain":["PBS1","B5","B6","B7","B8","B9","PBS2"],"range":["circle","square","triangle-up","triangle-down","diamond","circle","circle"]},"legend":null}}},
     {"transform":[{"aggregate":[{"op":"mean","field":"v","as":"m"},{"op":"stderr","field":"v","as":"se"}],"groupby":["g"]},{"calculate":"datum.m-datum.se","as":"lo"},{"calculate":"datum.m+datum.se","as":"hi"}],
      "layer":[
       {"mark":{"type":"tick","size":15,"thickness":1.2},"encoding":{"y":{"field":"m","type":"quantitative","scale":{"domain":[0,15],"nice":false},"axis":{"title":["IL-4+ cells (%)","(of TCRβ+CD4+)"],"values":[0,5,10,15],"format":"d"}}}},
       {"mark":{"type":"rule","strokeWidth":1.2},"encoding":{"y":{"field":"lo","type":"quantitative","scale":{"domain":[0,15],"nice":false},"axis":{"title":["IL-4+ cells (%)","(of TCRβ+CD4+)"],"values":[0,5,10,15],"format":"d"}},"y2":{"field":"hi"}}},
       {"mark":{"type":"tick","size":8,"thickness":1.2},"encoding":{"y":{"field":"lo","type":"quantitative","scale":{"domain":[0,15],"nice":false},"axis":{"title":["IL-4+ cells (%)","(of TCRβ+CD4+)"],"values":[0,5,10,15],"format":"d"}}}},
       {"mark":{"type":"tick","size":8,"thickness":1.2},"encoding":{"y":{"field":"hi","type":"quantitative","scale":{"domain":[0,15],"nice":false},"axis":{"title":["IL-4+ cells (%)","(of TCRβ+CD4+)"],"values":[0,5,10,15],"format":"d"}}}}]}]}]},
  {"width":153,"height":110,"title":{"text":"IFNγ"},"layer":[
   {"data":{"name":"pts"},"transform":[{"filter":"datum.p==11"}],
    "encoding":{"x":{"field":"g","type":"nominal","scale":{"domain":["PBS1","B5","B6","B7","B8","B9","PBS2"],"paddingInner":0,"paddingOuter":0},"axis":{"title":null}},
      "color":{"field":"g","type":"nominal","scale":{"domain":["PBS1","B5","B6","B7","B8","B9","PBS2"],"range":["#111111","#ee1c24","#1a1ad0","#1b7a2b","#9b30c8","#f07c3a","#111111"]},"legend":null}},
    "layer":[
     {"mark":{"type":"point","filled":true,"size":26,"opacity":1},"encoding":{"y":{"field":"v","type":"quantitative","scale":{"domain":[0,20],"nice":false},"axis":{"title":["IFNγ+ cells (%)","(of TCRβ+CD4+)"],"values":[0,5,10,15,20],"format":"d"}},"xOffset":{"field":"r","type":"ordinal","scale":{"type":"point","padding":1.5}},"shape":{"field":"g","type":"nominal","scale":{"domain":["PBS1","B5","B6","B7","B8","B9","PBS2"],"range":["circle","square","triangle-up","triangle-down","diamond","circle","circle"]},"legend":null}}},
     {"transform":[{"aggregate":[{"op":"mean","field":"v","as":"m"},{"op":"stderr","field":"v","as":"se"}],"groupby":["g"]},{"calculate":"datum.m-datum.se","as":"lo"},{"calculate":"datum.m+datum.se","as":"hi"}],
      "layer":[
       {"mark":{"type":"tick","size":15,"thickness":1.2},"encoding":{"y":{"field":"m","type":"quantitative","scale":{"domain":[0,20],"nice":false},"axis":{"title":["IFNγ+ cells (%)","(of TCRβ+CD4+)"],"values":[0,5,10,15,20],"format":"d"}}}},
       {"mark":{"type":"rule","strokeWidth":1.2},"encoding":{"y":{"field":"lo","type":"quantitative","scale":{"domain":[0,20],"nice":false},"axis":{"title":["IFNγ+ cells (%)","(of TCRβ+CD4+)"],"values":[0,5,10,15,20],"format":"d"}},"y2":{"field":"hi"}}},
       {"mark":{"type":"tick","size":8,"thickness":1.2},"encoding":{"y":{"field":"lo","type":"quantitative","scale":{"domain":[0,20],"nice":false},"axis":{"title":["IFNγ+ cells (%)","(of TCRβ+CD4+)"],"values":[0,5,10,15,20],"format":"d"}}}},
       {"mark":{"type":"tick","size":8,"thickness":1.2},"encoding":{"y":{"field":"hi","type":"quantitative","scale":{"domain":[0,20],"nice":false},"axis":{"title":["IFNγ+ cells (%)","(of TCRβ+CD4+)"],"values":[0,5,10,15,20],"format":"d"}}}}]}]}]}
 ],"spacing":24},
 {"width":153,"height":110,"title":{"text":"IL-17a"},"layer":[
   {"data":{"name":"pts"},"transform":[{"filter":"datum.p==12"}],
    "encoding":{"x":{"field":"g","type":"nominal","scale":{"domain":["PBS1","B5","B6","B7","B8","B9","PBS2"],"paddingInner":0,"paddingOuter":0},"axis":{"title":null}},
      "color":{"field":"g","type":"nominal","scale":{"domain":["PBS1","B5","B6","B7","B8","B9","PBS2"],"range":["#111111","#ee1c24","#1a1ad0","#1b7a2b","#9b30c8","#f07c3a","#111111"]},"legend":null}},
    "layer":[
     {"mark":{"type":"point","filled":true,"size":26,"opacity":1},"encoding":{"y":{"field":"v","type":"quantitative","scale":{"domain":[0,20],"nice":false},"axis":{"title":["IL-17a+ cells (%)","(of TCRβ+CD4+)"],"values":[0,5,10,15,20],"format":"d"}},"xOffset":{"field":"r","type":"ordinal","scale":{"type":"point","padding":1.5}},"shape":{"field":"g","type":"nominal","scale":{"domain":["PBS1","B5","B6","B7","B8","B9","PBS2"],"range":["circle","square","triangle-up","triangle-down","diamond","circle","circle"]},"legend":null}}},
     {"transform":[{"aggregate":[{"op":"mean","field":"v","as":"m"},{"op":"stderr","field":"v","as":"se"}],"groupby":["g"]},{"calculate":"datum.m-datum.se","as":"lo"},{"calculate":"datum.m+datum.se","as":"hi"}],
      "layer":[
       {"mark":{"type":"tick","size":15,"thickness":1.2},"encoding":{"y":{"field":"m","type":"quantitative","scale":{"domain":[0,20],"nice":false},"axis":{"title":["IL-17a+ cells (%)","(of TCRβ+CD4+)"],"values":[0,5,10,15,20],"format":"d"}}}},
       {"mark":{"type":"rule","strokeWidth":1.2},"encoding":{"y":{"field":"lo","type":"quantitative","scale":{"domain":[0,20],"nice":false},"axis":{"title":["IL-17a+ cells (%)","(of TCRβ+CD4+)"],"values":[0,5,10,15,20],"format":"d"}},"y2":{"field":"hi"}}},
       {"mark":{"type":"tick","size":8,"thickness":1.2},"encoding":{"y":{"field":"lo","type":"quantitative","scale":{"domain":[0,20],"nice":false},"axis":{"title":["IL-17a+ cells (%)","(of TCRβ+CD4+)"],"values":[0,5,10,15,20],"format":"d"}}}},
       {"mark":{"type":"tick","size":8,"thickness":1.2},"encoding":{"y":{"field":"hi","type":"quantitative","scale":{"domain":[0,20],"nice":false},"axis":{"title":["IL-17a+ cells (%)","(of TCRβ+CD4+)"],"values":[0,5,10,15,20],"format":"d"}}}}]}]}]}
],"spacing":9}
],
"spacing":19,
"config":{
 "view":{"stroke":null},
 "font":"Liberation Sans",
 "axis":{"grid":false,"domainColor":"#000","tickColor":"#000","labelColor":"#222","labelFontSize":8.5,"titleFontSize":7.5,"titleFontWeight":"normal","titleColor":"#222","tickSize":3,"domainWidth":1,"tickWidth":1},
 "axisX":{"labelFontWeight":"bold","labelAngle":0,"labelPadding":3},
 "axisY":{"titlePadding":5,"labelPadding":2},
 "title":{"fontSize":10.5,"fontWeight":"bold","offset":20,"frame":"group","anchor":"middle","color":"#111"}
}
}
